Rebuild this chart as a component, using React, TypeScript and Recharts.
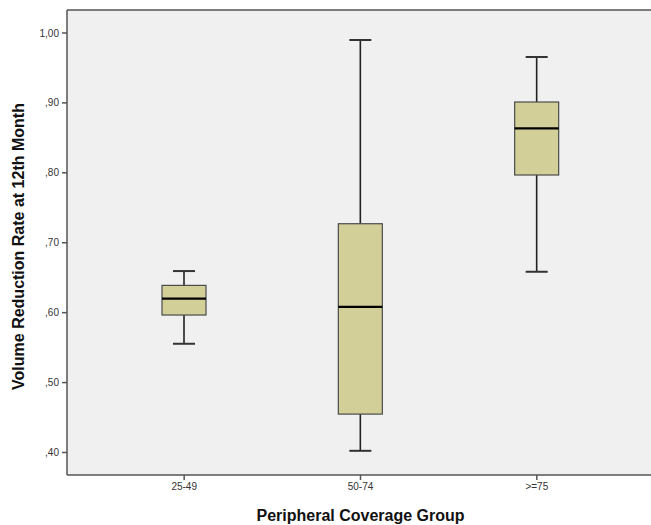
import React from "react";
import {
    ComposedChart,
    Bar,
    XAxis,
    YAxis,
    CartesianGrid,
    ReferenceLine,
} from "recharts";

// Peripheral coverage groups and box plot stats
const groups = ["25-49", "50-74", ">=75"];
const whiskerLow = [0.5555, 0.4024, 0.6585];
const quartile1 = [0.5966, 0.4549, 0.7969];
const medians = [0.62, 0.6084, 0.8637];
const quartile3 = [0.639, 0.7272, 0.9013];
const whiskerHigh = [0.6595, 0.99, 0.9657];

const yTicks = [0.4, 0.5, 0.6, 0.7, 0.8, 0.9, 1.0];
const Y_MIN = 0.3678;
const Y_MAX = 1.0329;

const data = groups.map((g, i) => ({
    group: g,
    low: whiskerLow[i],
    q1: quartile1[i],
    median: medians[i],
    q3: quartile3[i],
    high: whiskerHigh[i],
}));

const FONT = "'Liberation Sans', Arial, sans-serif";

// one Bar spans low..high; everything inside is placed on that same scale
const BoxShape = (props: any) => {
    const { x, y, width, height, payload } = props;
    const { low, q1, median, q3, high } = payload;
    const toPx = (v: number) => y + (height * (high - v)) / (high - low);
    const cx = x + width / 2;
    const capW = 22;
    const top = toPx(q3);
    const bottom = toPx(q1);
    return (
        <g>
            <line x1={cx} x2={cx} y1={toPx(high)} y2={top} stroke="#222" strokeWidth={1.6} />
            <line x1={cx} x2={cx} y1={bottom} y2={toPx(low)} stroke="#222" strokeWidth={1.6} />
            <line x1={cx - capW / 2} x2={cx + capW / 2} y1={toPx(high)} y2={toPx(high)} stroke="#333" strokeWidth={2} />
            <line x1={cx - capW / 2} x2={cx + capW / 2} y1={toPx(low)} y2={toPx(low)} stroke="#333" strokeWidth={2} />
            <rect x={x} y={top} width={width} height={bottom - top} fill="#d3cf98" stroke="#4a4a4a" strokeWidth={1.2} />
            <line x1={x} x2={x + width} y1={toPx(median)} y2={toPx(median)} stroke="#000" strokeWidth={2.2} />
        </g>
    );
};

const fmt = (v: number) => v.toFixed(2).replace(".", ",").replace(/^0/, "");

export default function App() {
    return (
        <div
            style={{
                position: "fixed",
                left: 0,
                top: 0,
                width: 651,
                height: 525,
                overflow: "hidden",
                background: "#fff",
                fontFamily: FONT,
            }}
        >
            <ComposedChart
                width={660}
                height={525}
                data={data}
                margin={{ top: 10, right: 6, bottom: 0, left: 0 }}
            >
                <CartesianGrid horizontal={false} vertical={false} fill="#f0f0f0" stroke="none" />
                <XAxis
                    dataKey="group"
                    type="category"
                    height={50}
                    padding={{ left: 29, right: 29 }}
                    tickSize={5}
                    tickMargin={3}
                    axisLine={{ stroke: "#555", strokeWidth: 1.5 }}
                    tickLine={{ stroke: "#555", strokeWidth: 1.5 }}
                    tick={{ fontSize: 10, fill: "#333", fontFamily: FONT }}
                    label={{
                        content: ({ viewBox }: any) => (
                            <text
                                x={viewBox.x + viewBox.width / 2}
                                y={viewBox.y + 46}
                                textAnchor="middle"
                                fontSize={16}
                                fontWeight="bold"
                                fontFamily={FONT}
                                fill="#111"
                            >
                                Peripheral Coverage Group
                            </text>
                        ),
                    }}
                />
                <YAxis
                    type="number"
                    width={67}
                    domain={[Y_MIN, Y_MAX]}
                    allowDataOverflow
                    ticks={yTicks}
                    tickFormatter={fmt}
                    tickSize={5}
                    tickMargin={3}
                    axisLine={{ stroke: "#555", strokeWidth: 1.5 }}
                    tickLine={{ stroke: "#555", strokeWidth: 1.5 }}
                    tick={{ fontSize: 10, fill: "#333", fontFamily: FONT }}
                    label={{
                        content: ({ viewBox }: any) => {
                            const lx = 24;
                            const ly = viewBox.y + viewBox.height / 2 + 4;
                            return (
                                <text
                                    x={lx}
                                    y={ly}
                                    transform={`rotate(-90, ${lx}, ${ly})`}
                                    textAnchor="middle"
                                    fontSize={16}
                                    fontWeight="bold"
                                    fontFamily={FONT}
                                    fill="#111"
                                >
                                    Volume Reduction Rate at 12th Month
                                </text>
                            );
                        },
                    }}
                />
                <ReferenceLine y={Y_MAX} stroke="#555" strokeWidth={1.5} />
                <Bar
                    dataKey={(d: any) => [d.low, d.high]}
                    barSize={44}
                    shape={BoxShape}
                    isAnimationActive={false}
                />
            </ComposedChart>
        </div>
    );
}
